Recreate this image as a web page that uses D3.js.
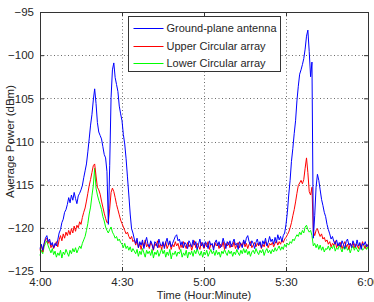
<!DOCTYPE html>
<html>
<head>
<meta charset="utf-8">
<script src="https://cdn.jsdelivr.net/npm/d3@7"></script>
<style>
  body { margin: 0; background: #fff; }
  text { font-family: "Liberation Sans", Arial, sans-serif; }
</style>
</head>
<body>
<script>
// samples every half minute from 4:00 to 6:00
var minutes = d3.range(0, 120.5, 0.5);

var seriesNames = ["Ground-plane antenna", "Upper Circular array", "Lower Circular array"];
var seriesColors = ["#0000ff", "#ff0000", "#00ff00"];

var groundPlane = [
  -122.4, -121.9, -122.6, -121.8, -121.2, -120.9, -121.6, -121.3, -122.0, -121.7,
  -122.3, -121.8, -122.1, -121.4, -120.6, -120.2, -119.4, -119.0, -118.2, -117.9,
  -117.3, -116.5, -117.1, -116.2, -116.8, -115.9, -116.6, -117.2, -116.3, -116.0,
  -115.6, -115.1, -114.2, -113.4, -112.6, -111.2, -109.7, -108.1, -106.9, -105.2,
  -103.9, -105.6, -107.8, -108.9, -109.3, -109.7, -110.6, -111.5, -111.9, -113.5,
  -119.6, -112.8, -104.9, -101.7, -100.9, -102.6, -103.4, -104.2, -105.9, -106.8,
  -107.6, -109.2, -110.3, -112.0, -114.1, -116.2, -118.4, -120.1, -120.6, -121.3,
  -121.8, -121.2, -122.3, -121.6, -122.0, -121.4, -122.4, -121.7, -121.1, -121.9,
  -122.2, -121.5, -121.9, -122.5, -121.6, -121.8, -122.3, -121.3, -121.9, -122.1,
  -121.6, -122.4, -121.7, -121.2, -122.0, -121.5, -122.2, -121.8, -121.4, -121.0,
  -120.8, -121.5, -121.3, -122.0, -121.6, -122.3, -121.7, -121.9, -122.4, -121.5,
  -121.8, -122.2, -121.4, -122.0, -121.6, -122.5, -121.9, -121.3, -122.1, -121.7,
  -122.3, -121.6, -121.9, -122.4, -121.5, -122.0, -121.8, -122.6, -121.7, -121.4,
  -122.1, -121.6, -122.3, -121.9, -121.2, -121.8, -122.4, -121.6, -122.0, -121.5,
  -122.2, -121.7, -121.3, -122.0, -121.8, -122.5, -121.6, -121.9, -122.3, -121.4,
  -121.9, -121.2, -120.9, -121.6, -122.1, -121.5, -121.8, -122.4, -121.7, -121.3,
  -122.0, -121.6, -122.3, -121.5, -121.9, -121.2, -122.1, -121.7, -121.0, -121.6,
  -121.3, -121.9, -121.1, -121.7, -120.8, -121.4, -121.0, -121.6, -120.9, -120.6,
  -119.6, -118.2, -116.2, -114.5, -112.3, -110.8, -109.1, -107.6, -105.3, -103.6,
  -102.2, -101.7, -101.1, -100.4, -99.3, -97.8, -97.1, -99.6, -102.5, -100.8,
  -121.2, -118.6, -115.3, -113.8, -114.5, -115.6, -116.7, -117.4, -118.2, -118.7,
  -119.6, -120.2, -120.7, -121.3, -121.0, -121.6, -121.9, -121.4, -122.1, -121.7,
  -122.2, -121.5, -121.9, -122.4, -121.6, -121.3, -122.0, -121.8, -122.3, -121.5,
  -121.9, -122.2, -121.4, -122.1, -121.7, -122.5, -121.8, -122.0, -121.6, -122.2, -121.9
];

var upperArray = [
  -122.6, -122.0, -122.8, -121.9, -121.4, -121.2, -121.8, -121.5, -122.3, -121.9,
  -122.4, -122.0, -121.6, -122.2, -121.4, -120.9, -121.5, -120.7, -121.2, -120.5,
  -120.9, -120.3, -120.8, -120.1, -120.6, -119.8, -120.4, -119.7, -120.0, -119.3,
  -119.6, -118.8, -118.2, -117.7, -116.9, -116.0, -115.1, -114.4, -113.6, -112.8,
  -112.6, -114.0, -115.3, -115.6, -116.1, -116.9, -117.6, -118.3, -118.9, -119.4,
  -119.3, -117.8, -115.9, -115.4, -115.8, -116.5, -117.3, -117.9, -118.5, -119.1,
  -119.5, -119.9, -120.3, -120.7, -120.5, -121.0, -121.3, -121.0, -121.6, -121.4,
  -122.0, -121.5, -122.3, -121.8, -122.5, -121.7, -122.1, -121.4, -122.2, -121.9,
  -122.4, -121.7, -122.0, -122.6, -121.8, -122.1, -121.5, -122.3, -121.9, -122.5,
  -121.8, -122.2, -121.6, -122.4, -122.0, -121.7, -122.5, -121.9, -122.2, -121.6,
  -122.1, -121.8, -122.5, -121.9, -122.3, -121.6, -122.0, -122.4, -121.7, -122.2,
  -121.9, -122.6, -122.0, -121.5, -122.3, -121.8, -122.1, -122.5, -121.7, -122.0,
  -122.4, -121.8, -122.2, -121.6, -122.5, -121.9, -122.0, -122.3, -121.7, -122.1,
  -121.8, -122.4, -121.9, -122.2, -121.6, -122.5, -121.8, -122.1, -121.7, -122.3,
  -121.9, -122.2, -121.6, -122.4, -122.0, -121.7, -122.3, -121.8, -122.1, -121.5,
  -122.2, -121.8, -122.4, -121.9, -121.6, -122.3, -122.0, -121.7, -122.2, -121.8,
  -122.1, -121.7, -122.4, -121.9, -122.2, -121.6, -121.9, -122.3, -121.8, -122.0,
  -121.7, -122.2, -121.8, -121.5, -122.0, -121.6, -121.9, -121.4, -121.7, -121.3,
  -121.1, -120.8, -120.5, -120.0, -119.4, -118.6, -117.9, -117.0, -116.0, -115.1,
  -114.8, -114.5, -114.9, -114.4, -113.1, -111.9, -113.6, -115.8, -116.2, -115.3,
  -120.4, -120.9, -120.3, -120.1, -120.6, -121.0, -120.7, -121.3, -121.1, -121.6,
  -121.4, -121.9, -121.6, -122.2, -121.8, -122.0, -121.5, -122.3, -121.9, -122.1,
  -121.7, -122.4, -122.0, -121.6, -122.2, -121.9, -122.5, -121.8, -122.1, -121.7,
  -122.3, -121.9, -122.0, -122.4, -121.8, -122.2, -121.6, -122.1, -122.4, -121.9, -122.2
];

var lowerArray = [
  -123.2, -122.6, -123.0, -122.2, -121.8, -121.5, -122.1, -122.5, -122.9, -122.4,
  -123.1, -122.7, -123.4, -122.9, -123.2, -122.6, -123.5, -122.8, -123.1, -122.5,
  -122.9, -123.3, -122.6, -123.0, -122.4, -122.8, -122.3, -122.9, -122.5, -122.1,
  -122.4, -121.8, -121.4, -121.0, -120.3, -119.5, -118.4, -117.6, -116.3, -115.1,
  -113.1, -115.4, -116.2, -116.8, -117.3, -117.9, -118.7, -119.2, -119.9, -120.3,
  -120.6, -120.2, -119.9, -120.5, -120.8, -121.2, -121.0, -121.5, -121.3, -121.7,
  -121.9, -122.3, -121.8, -122.4, -122.1, -122.6, -122.2, -122.8, -122.4, -122.7,
  -123.0, -122.5, -123.3, -122.7, -123.1, -122.4, -122.9, -123.4, -122.6, -123.0,
  -122.7, -123.2, -122.5, -123.5, -122.8, -123.1, -122.6, -123.3, -122.9, -122.4,
  -123.0, -122.6, -123.4, -122.8, -123.2, -122.5, -123.6, -122.9, -123.1, -122.7,
  -123.3, -122.8, -123.0, -122.5, -123.4, -122.9, -123.2, -122.6, -123.5, -122.8,
  -123.1, -122.7, -123.3, -122.6, -123.0, -122.4, -122.9, -123.2, -122.7, -123.4,
  -122.8, -123.1, -122.6, -123.3, -122.9, -122.5, -123.0, -122.7, -123.2, -122.6,
  -123.1, -122.8, -123.4, -122.7, -123.0, -122.5, -122.9, -123.2, -122.6, -123.0,
  -122.7, -123.3, -122.8, -123.1, -122.5, -122.9, -123.2, -122.6, -123.0, -122.4,
  -122.9, -122.5, -123.1, -122.7, -123.3, -122.8, -122.6, -123.0, -122.4, -122.8,
  -123.1, -122.6, -122.9, -122.5, -123.2, -122.7, -122.4, -122.9, -122.6, -123.0,
  -122.5, -122.8, -122.3, -122.7, -122.4, -122.1, -122.6, -122.2, -122.5, -121.9,
  -122.2, -121.8, -122.0, -121.6, -121.8, -121.3, -121.5, -121.1, -120.8, -121.0,
  -120.5, -120.8, -120.3, -120.6, -119.9, -119.7, -120.2, -120.5, -120.3, -120.9,
  -122.1, -121.8, -122.3, -121.9, -122.5, -122.0, -122.6, -122.2, -122.8, -122.4,
  -122.5, -122.1, -122.6, -122.2, -122.4, -121.9, -122.7, -122.3, -122.5, -122.0,
  -122.4, -122.8, -122.2, -122.5, -122.1, -122.6, -122.3, -122.9, -122.4, -122.1,
  -122.6, -122.2, -122.5, -122.8, -122.3, -122.1, -122.6, -122.4, -122.0, -122.5, -122.2
];

var xTickValues = [0, 30, 60, 90, 120];
var xTickLabels = ["4:00", "4:30", "5:00", "5:30", "6:00"];
var yTickValues = [-125, -120, -115, -110, -105, -100, -95];

var margin = {top: 12, right: 6, bottom: 31, left: 40},
    width = 374 - margin.left - margin.right,
    height = 302 - margin.top - margin.bottom;

var x = d3.scaleLinear().domain([0, 120]).range([0, width]);
var y = d3.scaleLinear().domain([-125, -95]).range([height, 0]);

var svg = d3.select("body").append("svg")
    .attr("width", 374)
    .attr("height", 302);

var g = svg.append("g")
    .attr("transform", "translate(" + margin.left + "," + margin.top + ")");

// dotted grid
g.append("g").selectAll("line")
    .data(yTickValues.slice(1, -1))
    .enter().append("line")
    .attr("x1", 0).attr("x2", width)
    .attr("y1", function(d) { return Math.round(y(d)) + 0.5; })
    .attr("y2", function(d) { return Math.round(y(d)) + 0.5; })
    .attr("stroke", "#444").attr("stroke-width", 0.8)
    .attr("stroke-dasharray", "1,2.5");

g.append("g").selectAll("line")
    .data(xTickValues.slice(1, -1))
    .enter().append("line")
    .attr("y1", 0).attr("y2", height)
    .attr("x1", function(d) { return Math.round(x(d)) + 0.5; })
    .attr("x2", function(d) { return Math.round(x(d)) + 0.5; })
    .attr("stroke", "#444").attr("stroke-width", 0.8)
    .attr("stroke-dasharray", "1,2.5");

// series
var line = d3.line()
    .x(function(d, i) { return x(minutes[i]); })
    .y(function(d) { return y(d); });

var allSeries = [groundPlane, upperArray, lowerArray];
// green first, blue on top
[2, 1, 0].forEach(function(k) {
  g.append("path")
    .datum(allSeries[k])
    .attr("fill", "none")
    .attr("stroke", seriesColors[k])
    .attr("stroke-width", 1)
    .attr("d", line);
});

// axes, ticks pointing inward on all four sides
function styleAxis(sel) {
  sel.select(".domain").remove();
  sel.selectAll("line").attr("stroke", "#333");
  sel.selectAll("text").attr("fill", "#262626").style("font-size", "11.5px");
}

g.append("g")
    .attr("transform", "translate(0," + height + ")")
    .call(d3.axisBottom(x).tickValues(xTickValues)
      .tickFormat(function(d, i) { return xTickLabels[i]; })
      .tickSizeInner(-4).tickSizeOuter(0).tickPadding(7))
    .call(styleAxis);

g.append("g")
    .call(d3.axisTop(x).tickValues(xTickValues).tickFormat("")
      .tickSizeInner(-4).tickSizeOuter(0))
    .call(styleAxis);

g.append("g")
    .call(d3.axisLeft(y).tickValues(yTickValues)
      .tickSizeInner(-4).tickSizeOuter(0).tickPadding(6))
    .call(styleAxis);

g.append("g")
    .attr("transform", "translate(" + width + ",0)")
    .call(d3.axisRight(y).tickValues(yTickValues).tickFormat("")
      .tickSizeInner(-4).tickSizeOuter(0))
    .call(styleAxis);

g.append("rect")
    .attr("x", 0.5).attr("y", 0.5)
    .attr("width", width).attr("height", height)
    .attr("fill", "none").attr("stroke", "#333").attr("stroke-width", 1);

// axis labels
svg.append("text")
    .attr("x", margin.left + width / 2)
    .attr("y", 299)
    .attr("text-anchor", "middle")
    .attr("fill", "#262626")
    .style("font-size", "11px")
    .text("Time (Hour:Minute)");

svg.append("text")
    .attr("transform", "translate(14," + (margin.top + height / 2) + ") rotate(-90)")
    .attr("text-anchor", "middle")
    .attr("fill", "#262626")
    .style("font-size", "11.5px")
    .text("Average Power (dBm)");

// legend
var legend = g.append("g").attr("transform", "translate(" + (128.5 - margin.left) + "," + (16.5 - margin.top) + ")");
legend.append("rect")
    .attr("width", 152).attr("height", 55)
    .attr("fill", "#fff").attr("stroke", "#333").attr("stroke-width", 1);

var item = legend.selectAll("g")
    .data(seriesNames)
    .enter().append("g")
    .attr("transform", function(d, i) { return "translate(0," + Math.round(12 + i * 17.5) + ")"; });

item.append("line")
    .attr("x1", 5).attr("x2", 35)
    .attr("y1", 0).attr("y2", 0)
    .attr("stroke", function(d, i) { return seriesColors[i]; })
    .attr("stroke-width", 1);

item.append("text")
    .attr("x", 38).attr("dy", "0.35em")
    .attr("fill", "#262626")
    .style("font-size", "11px")
    .text(function(d) { return d; });
</script>
</body>
</html>
